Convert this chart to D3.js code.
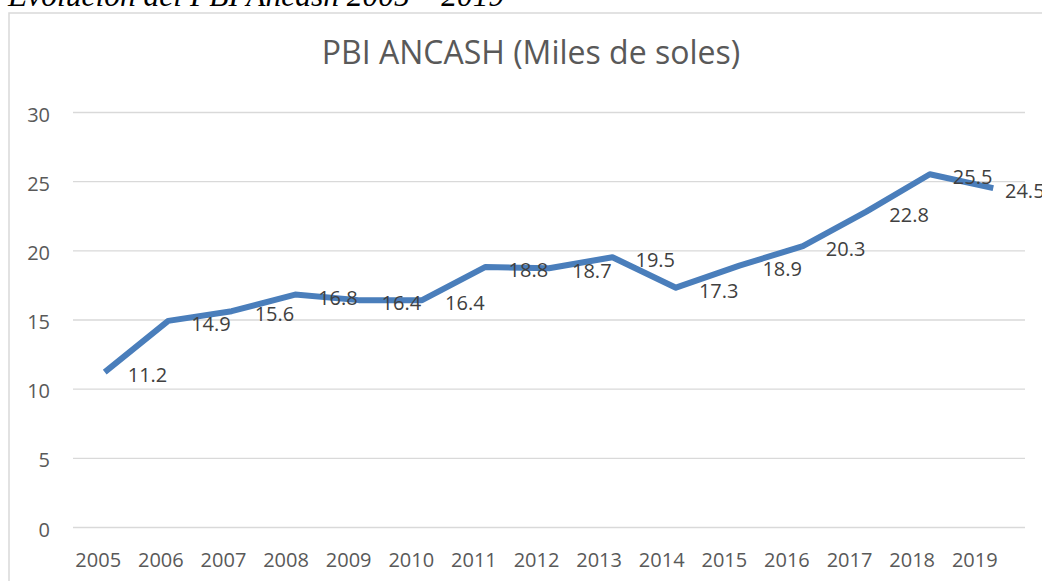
<!DOCTYPE html>
<html>
<head>
<meta charset="utf-8">
<script src="https://cdn.jsdelivr.net/npm/d3@7"></script>
<style>
  html, body { margin: 0; padding: 0; background: #ffffff; }
  svg { display: block; }
</style>
</head>
<body>
<svg id="chart" width="1042" height="581"></svg>
<script>
// ---- data ----
const years = ["2005","2006","2007","2008","2009","2010","2011","2012","2013","2014","2015","2016","2017","2018","2019"];
const pbi = [11.2, 14.9, 15.6, 16.8, 16.4, 16.4, 18.8, 18.7, 19.5, 17.3, 18.9, 20.3, 22.8, 25.5, 24.5];
const yTicks = [0, 5, 10, 15, 20, 25, 30];
const chartTitle = "PBI ANCASH (Miles de soles)";
const figureCaption = "Evolución del PBI Ancash 2005 – 2019";

// ---- layout ----
const W = 1042, H = 581;
const plot = { left: 73, right: 1025, top: 112, bottom: 527 };
const font = "'Open Sans', 'Noto Sans', sans-serif";
const gridColor = "#d9d9d9";
const axisText = "#595959";
const labelText = "#404040";
const lineColor = "#4a7ebb";

const svg = d3.select("#chart");
svg.append("rect").attr("width", W).attr("height", H).attr("fill", "#ffffff");

// figure caption (cut off at top in the reference)
svg.append("text")
  .attr("x", 8).attr("y", 6)
  .attr("font-family", "'Liberation Serif', 'Times New Roman', serif")
  .attr("font-style", "italic")
  .attr("font-size", 31.5)
  .attr("fill", "#000")
  .text(figureCaption);

// chart border (left and top edges visible)
svg.append("path")
  .attr("d", d3.line()([[9, H], [9, 13], [W, 13]]))
  .attr("fill", "none")
  .attr("stroke", gridColor)
  .attr("stroke-width", 1.5);

// scales
const x = d3.scaleBand().domain(years).range([plot.left, plot.right]).padding(0);
const cx = d => x(d) + x.bandwidth() / 2;
const y = d3.scaleLinear().domain([0, 30]).range([plot.bottom, plot.top]);
// category label positions (as rendered in the reference, slightly left of the points)
const xl = d3.scalePoint().domain(years).range([cx(years[0]) - 7, cx(years[years.length - 1]) - 19]);

// gridlines + y labels
const yAxis = d3.axisLeft(y).tickValues(yTicks).tickSize(-(plot.right - plot.left)).tickPadding(23).tickFormat(d3.format("d"));
const gy = svg.append("g").attr("transform", `translate(${plot.left},0)`).call(yAxis);
gy.select(".domain").remove();
gy.selectAll(".tick line").attr("stroke", gridColor).attr("stroke-width", 1.4);
gy.selectAll(".tick text")
  .attr("fill", axisText).attr("font-family", font).attr("font-size", 20)
  .attr("dy", null).attr("y", 9);

// x labels
const xAxis = d3.axisBottom(xl).tickSize(0).tickPadding(0);
const gx = svg.append("g").attr("transform", `translate(0,${plot.bottom})`).call(xAxis);
gx.select(".domain").remove();
gx.selectAll(".tick text")
  .attr("fill", axisText).attr("font-family", font).attr("font-size", 20)
  .attr("dy", null).attr("y", 40);

// title
svg.append("text")
  .attr("x", 531).attr("y", 64)
  .attr("text-anchor", "middle")
  .attr("font-family", font)
  .attr("font-size", 32)
  .attr("fill", axisText)
  .text(chartTitle);

// line
const pts = years.map((yr, i) => ({ yr, v: pbi[i] }));
svg.append("path")
  .datum(pts)
  .attr("d", d3.line().x(d => cx(d.yr)).y(d => y(d.v)))
  .attr("fill", "none")
  .attr("stroke", lineColor)
  .attr("stroke-width", 6)
  .attr("stroke-linejoin", "round")
  .attr("stroke-linecap", "butt");

// data labels (to the right of each point)
svg.append("g").selectAll("text")
  .data(pts)
  .join("text")
  .attr("x", d => Math.min(cx(d.yr) + 23, plot.right - 20))
  .attr("y", d => y(d.v) + 10)
  .attr("font-family", font)
  .attr("font-size", 20)
  .attr("fill", labelText)
  .text(d => d3.format(".1f")(d.v));
</script>
</body>
</html>
